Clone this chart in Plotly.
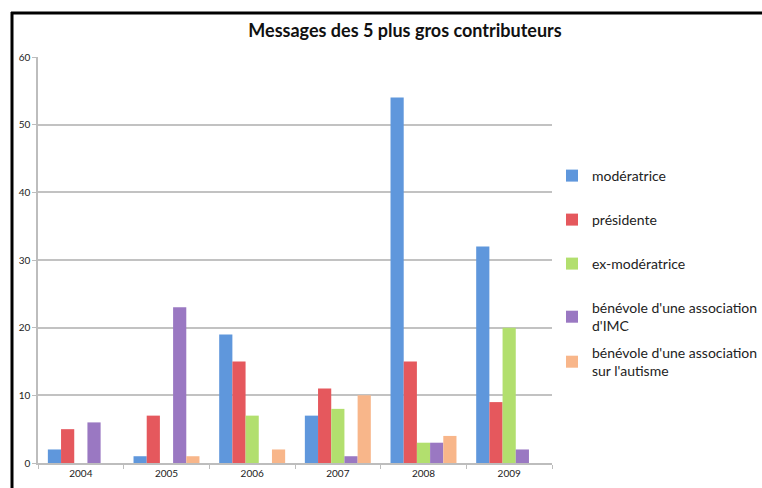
import plotly.graph_objects as go

years = ["2004", "2005", "2006", "2007", "2008", "2009"]
moderatrice = [2, 1, 19, 7, 54, 32]
presidente = [5, 7, 15, 11, 15, 9]
ex_moderatrice = [0, 0, 7, 8, 3, 20]
benevole_imc = [6, 23, 0, 1, 3, 2]
benevole_autisme = [0, 1, 2, 10, 4, 0]

series = [
    ("modératrice", moderatrice, "#5f97dc"),
    ("présidente", presidente, "#e5585d"),
    ("ex-modératrice", ex_moderatrice, "#b2df6e"),
    ("bénévole d'une association<br>d'IMC", benevole_imc, "#9a78c2"),
    ("bénévole d'une association<br>sur l'autisme", benevole_autisme, "#f8b68a"),
]

W, H = 762, 488
L, R, T, B = 38, 210, 57, 25
PW, PH = W - L - R, H - T - B

# legend rows (top of each entry, in pixels from the top of the page)
legend_tops = [160, 204, 248, 292, 337]
legend_left = 552


def px_x(x):
    return (x - L) / PW


def px_y(y):
    return 1 - (y - T) / PH


fig = go.Figure()
for i, (name, vals, color) in enumerate(series):
    key = "legend" if i == 0 else f"legend{i + 1}"
    fig.add_trace(go.Bar(
        x=years, y=vals, name=name, marker_color=color,
        marker_line_width=0, legend=key,
    ))

font = "Lato, 'Open Sans', sans-serif"
legends = {}
for i, top in enumerate(legend_tops):
    key = "legend" if i == 0 else f"legend{i + 1}"
    legends[key] = dict(
        x=px_x(legend_left), y=px_y(top),
        xanchor="left", yanchor="top", bgcolor="rgba(0,0,0,0)",
        font=dict(family=font, size=14, color="#222"),
        itemwidth=30, tracegroupgap=0,
    )

fig.update_layout(
    width=W, height=H,
    margin=dict(l=L, r=R, t=T, b=B, autoexpand=False),
    paper_bgcolor="white", plot_bgcolor="white",
    title=dict(text="<b>Messages des 5 plus gros contributeurs</b>",
               x=405 / W, xanchor="center", y=1 - 31 / H, yanchor="middle",
               font=dict(family=font, size=18, color="#111")),
    barmode="group", bargap=0.23, bargroupgap=0,
    font=dict(family=font, size=10, color="#222"),
    showlegend=True,
    **legends,
)
fig.update_xaxes(
    showline=True, linecolor="#bdbdbd", linewidth=1.5,
    ticks="outside", tickson="boundaries", ticklen=4, tickcolor="#bdbdbd",
    tickfont=dict(size=10), showgrid=False,
)
fig.update_yaxes(
    range=[0, 60], dtick=10, showline=True, linecolor="#bdbdbd", linewidth=1.5,
    ticks="outside", ticklen=4, tickcolor="#bdbdbd",
    gridcolor="#c2c2c2", gridwidth=1.5, zeroline=False,
    tickfont=dict(size=10),
)

# black frame along the top and left edge of the picture
fig.add_shape(type="line", xref="paper", yref="paper",
              x0=px_x(11), x1=px_x(W), y0=px_y(13), y1=px_y(13),
              line=dict(color="black", width=3))
fig.add_shape(type="line", xref="paper", yref="paper",
              x0=px_x(12), x1=px_x(12), y0=px_y(12), y1=px_y(H),
              line=dict(color="black", width=3))

# drop the browser's default page margin so the figure sits at the top-left corner
fig.write_html("out.html", config={"displayModeBar": False},
               post_script="document.body.style.margin = '0';")
